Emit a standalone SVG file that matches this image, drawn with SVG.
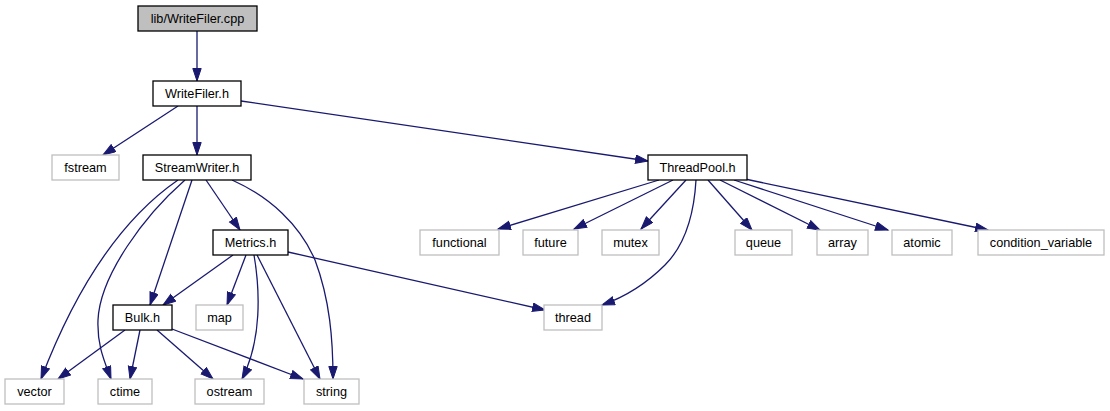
<svg xmlns="http://www.w3.org/2000/svg" width="1110" height="411" viewBox="0 0 1110 411">
<defs>
<marker id="ah" markerUnits="userSpaceOnUse" markerWidth="15" markerHeight="11" refX="13" refY="4.7" orient="auto">
<path d="M0.5,0.5 L13,4.7 L0.5,8.9 z" fill="#191970" stroke="#191970" stroke-width="1"/>
</marker>
<style>
rect{stroke-width:1.3}
.main rect{fill:#bfbfbf;stroke:#000}
.node rect{fill:#fff;stroke:#000}
.ext rect{fill:#fff;stroke:#bfbfbf}
text{font-family:"Liberation Sans",Arial,sans-serif;font-size:12.7px;fill:#000;text-anchor:middle}
#edges path{fill:none;stroke:#191970;stroke-width:1.3;marker-end:url(#ah)}
</style>
</defs>
<rect width="1110" height="411" fill="#fff"/>
<g id="edges">
<path d="M197,31 L197,81"/>
<path d="M178,106 L103,155"/>
<path d="M197,106 L197,155"/>
<path d="M241,101 L648,161"/>
<path d="M178,180 C120,220 75,290 41,379"/>
<path d="M185,180 C145,215 100,275 98,320 C97,345 104,360 111,379"/>
<path d="M192,180 L150,305"/>
<path d="M206,180 L240,230"/>
<path d="M232,180 C270,197 300,225 315,260 C330,300 333,340 333,379"/>
<path d="M233,255 L163,305"/>
<path d="M246,255 L227,305"/>
<path d="M254,255 C260,290 262,340 242,379"/>
<path d="M257,255 L320,379"/>
<path d="M288,252 L545,310"/>
<path d="M125,330 L58,379"/>
<path d="M140,330 L130,379"/>
<path d="M157,330 L213,379"/>
<path d="M172,329 L303,379"/>
<path d="M659,180 L498,229"/>
<path d="M673,180 L574,229"/>
<path d="M686,180 L641,229"/>
<path d="M696,180 C694,215 685,245 665,265 C645,285 625,297 602,305"/>
<path d="M708,180 L752,230"/>
<path d="M720,180 L820,230"/>
<path d="M734,180 L888,230"/>
<path d="M745,179 L988,230"/>
</g>
<g id="n_cpp" class="main"><rect x="138" y="6" width="119" height="25"/><text x="197.5" y="23">lib/WriteFiler.cpp</text></g>
<g id="n_writefiler" class="node"><rect x="153" y="81" width="88" height="25"/><text x="197" y="98">WriteFiler.h</text></g>
<g id="n_fstream" class="ext"><rect x="52" y="155" width="67" height="25"/><text x="85.5" y="172">fstream</text></g>
<g id="n_streamwriter" class="node"><rect x="143" y="155" width="108" height="25"/><text x="197" y="172">StreamWriter.h</text></g>
<g id="n_threadpool" class="node"><rect x="648" y="155" width="99" height="25"/><text x="697.5" y="172">ThreadPool.h</text></g>
<g id="n_metrics" class="node"><rect x="213" y="230" width="75" height="25"/><text x="250.5" y="247">Metrics.h</text></g>
<g id="n_functional" class="ext"><rect x="420" y="230" width="79" height="25"/><text x="459.5" y="247">functional</text></g>
<g id="n_future" class="ext"><rect x="523" y="230" width="55" height="25"/><text x="550.5" y="247">future</text></g>
<g id="n_mutex" class="ext"><rect x="602" y="230" width="57" height="25"/><text x="630.5" y="247">mutex</text></g>
<g id="n_queue" class="ext"><rect x="735" y="230" width="57" height="25"/><text x="763.5" y="247">queue</text></g>
<g id="n_array" class="ext"><rect x="817" y="230" width="51" height="25"/><text x="842.5" y="247">array</text></g>
<g id="n_atomic" class="ext"><rect x="892" y="230" width="60" height="25"/><text x="922" y="247">atomic</text></g>
<g id="n_condvar" class="ext"><rect x="978" y="230" width="126" height="25"/><text x="1041" y="247">condition_variable</text></g>
<g id="n_bulk" class="node"><rect x="113" y="305" width="59" height="25"/><text x="142.5" y="322">Bulk.h</text></g>
<g id="n_map" class="ext"><rect x="196" y="305" width="47" height="25"/><text x="219.5" y="322">map</text></g>
<g id="n_thread" class="ext"><rect x="544" y="305" width="58" height="25"/><text x="573" y="322">thread</text></g>
<g id="n_vector" class="ext"><rect x="5" y="379" width="59" height="25"/><text x="34.5" y="396">vector</text></g>
<g id="n_ctime" class="ext"><rect x="98" y="379" width="54" height="25"/><text x="125" y="396">ctime</text></g>
<g id="n_ostream" class="ext"><rect x="195" y="379" width="69" height="25"/><text x="229.5" y="396">ostream</text></g>
<g id="n_string" class="ext"><rect x="304" y="379" width="55" height="25"/><text x="331.5" y="396">string</text></g>
</svg>
